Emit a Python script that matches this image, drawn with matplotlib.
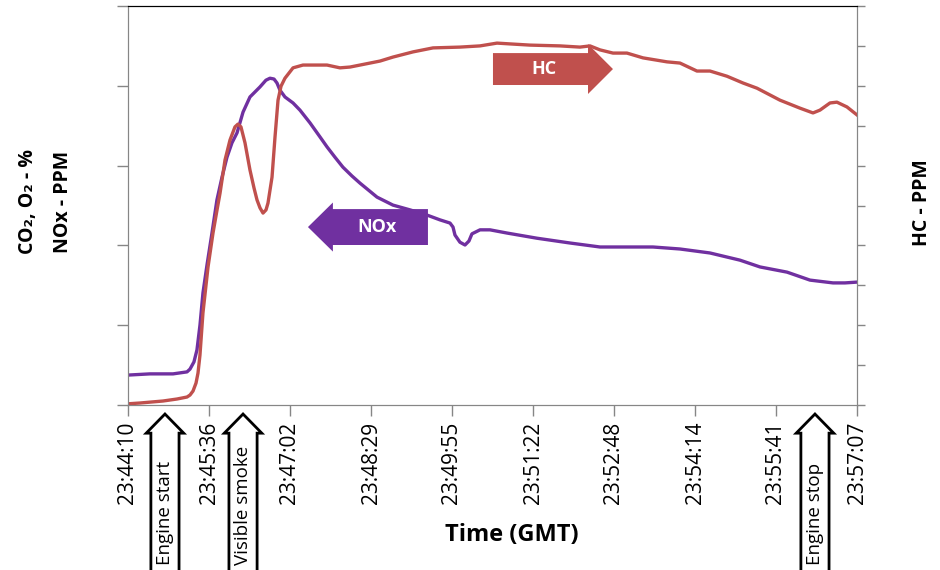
import matplotlib
matplotlib.use("Agg")
import matplotlib.pyplot as plt
import matplotlib.transforms as mtransforms
from matplotlib.patches import FancyArrow

plt.rcParams["font.family"] = ["Open Sans", "DejaVu Sans"]

# tijd in seconden vanaf 23:44:10
nox_t = [0, 23.4, 48.0, 62.9, 66.1, 70.3, 73.5, 76.7, 79.9, 84.2, 89.5, 94.8,
         100.2, 105.5, 110.8, 116.2, 122.6, 130.0, 140.6, 147.0, 151.3, 155.6,
         158.8, 162.0, 167.3, 175.9, 183.3, 194.0, 204.6, 212.1, 220.6, 229.1,
         238.7, 247.3, 265.4, 282.4, 300.6, 318.7, 332.5, 343.2, 346.4, 348.5,
         353.8, 359.2, 363.4, 366.6, 375.2, 385.8, 403.9, 435.9, 471.1, 503.1,
         559.5, 588.3, 620.3, 652.3, 673.6, 702.4, 726.9, 751.4, 764.2, 777]
nox_v = [7.5, 7.8, 7.8, 8.3, 9.0, 10.8, 13.8, 20.0, 28.1, 35.1, 43.1, 51.4,
         57.1, 62.1, 65.7, 68.2, 73.4, 77.2, 79.7, 81.4, 81.9, 81.7,
         80.7, 78.9, 77.2, 75.7, 73.9, 70.7, 67.2, 64.7, 62.1, 59.6,
         57.4, 55.6, 52.1, 50.1, 48.9, 47.6, 46.4, 45.6, 44.6, 42.6,
         40.8, 40.1, 41.1, 42.9, 43.9, 43.9, 43.1, 41.8, 40.6, 39.6,
         39.6, 39.1, 38.1, 36.3, 34.6, 33.3, 31.3, 30.6, 30.6, 30.8]

hc_t = [0, 12.8, 37.3, 52.2, 62.9, 66.1, 69.3, 72.5, 74.6, 76.7, 79.9, 85.3,
        90.6, 94.9, 98.1, 103.4, 108.7, 114.0, 117.2, 120.4, 124.7, 130.0,
        134.3, 137.5, 140.7, 143.9, 147.1, 149.2, 153.5, 156.7, 159.9, 163.1,
        167.3, 175.9, 186.5, 204.6, 212.1, 225.9, 236.6, 247.3, 268.6, 282.4,
        303.8, 325.1, 353.8, 375.2, 393.3, 407.1, 428.4, 460.4, 481.7, 492.4,
        503.1, 516.9, 531.8, 548.9, 574.5, 588.3, 606.4, 620.3, 638.4, 655.5,
        670.4, 694.9, 716.2, 730.1, 737.5, 748.2, 755.6, 766.3, 777]
hc_v = [0.3, 0.5, 1.0, 1.5, 2.0, 2.5, 3.5, 5.5, 8.0, 12.5, 23.1, 34.6,
        43.1, 48.9, 53.1, 61.4, 66.4, 69.7, 70.4, 69.7, 65.7, 58.9,
        54.4, 51.4, 49.4, 48.1, 48.9, 50.6, 57.1, 67.2, 76.4, 79.9,
        81.9, 84.5, 85.2, 85.2, 85.2, 84.5, 84.7, 85.2, 86.2, 87.2,
        88.5, 89.5, 89.7, 90.0, 90.7, 90.5, 90.2, 90.0, 89.7, 90.0,
        89.0, 88.2, 88.2, 87.0, 86.0, 85.7, 83.7, 83.7, 82.4, 80.7,
        79.4, 76.4, 74.4, 73.2, 73.9, 75.7, 75.9, 74.7, 72.7]

tick_labels = ["23:44:10", "23:45:36", "23:47:02", "23:48:29", "23:49:55",
               "23:51:22", "23:52:48", "23:54:14", "23:55:41", "23:57:07"]
tick_pos = [i * 777 / 9 for i in range(10)]

event_names = ["Engine start", "Visible smoke", "Engine stop"]
event_t = [39.4, 122.6, 732.2]

purple = "#7030A0"
red = "#C0504D"
grey = "#868686"

fig = plt.figure(figsize=(9.4, 5.7), dpi=100)
ax = fig.add_axes([128 / 940, 1 - 405 / 570, 729 / 940, 399 / 570])
ax2 = ax.twinx()

ax.plot(nox_t, nox_v, color=purple, lw=2.4, solid_joinstyle="round")
ax2.plot(hc_t, hc_v, color=red, lw=2.4, solid_joinstyle="round")

for a in (ax, ax2):
    a.set_xlim(0, 777)
    a.set_ylim(0, 100)
    for s in ("left", "right", "bottom"):
        a.spines[s].set_color(grey)
    a.spines["top"].set_color("black")

ax.set_yticks(range(0, 101, 20))
ax.set_yticklabels([])
ax.tick_params(axis="y", direction="out", length=8, color=grey, width=1)
ax2.set_yticks(range(0, 101, 10))
ax2.set_yticklabels([])
ax2.tick_params(axis="y", direction="out", length=6, color=grey, width=1)

ax.set_xticks(tick_pos)
ax.set_xticklabels(tick_labels, rotation=90, fontsize=15)
ax.tick_params(axis="x", direction="out", length=8, color=grey, width=1, pad=4)

fig.text(512 / 940, 1 - 535 / 570, "Time (GMT)", fontsize=17,
         fontweight="bold", ha="center", va="center")

fig.text(28 / 940, 1 - 202 / 570, "CO₂, O₂ - %", rotation=90, fontsize=14,
         fontweight="bold", ha="center", va="center")
fig.text(63 / 940, 1 - 202 / 570, "NOx - PPM", rotation=90, fontsize=14,
         fontweight="bold", ha="center", va="center")
fig.text(922 / 940, 1 - 203 / 570, "HC - PPM", rotation=90, fontsize=14,
         fontweight="bold", ha="center", va="center")

# serie-pijlen
ax.add_patch(FancyArrow(319.7, 44.6, -127.9, 0, width=9.0, head_width=12.3,
                        head_length=26.6, length_includes_head=True,
                        color=purple, lw=0))
ax.text(265, 44.6, "NOx", color="white", fontsize=13, fontweight="bold",
        ha="center", va="center")
ax.add_patch(FancyArrow(389.0, 84.2, 127.9, 0, width=8.0, head_width=12.5,
                        head_length=26.6, length_includes_head=True,
                        color=red, lw=0))
ax.text(443, 84.2, "HC", color="white", fontsize=13, fontweight="bold",
        ha="center", va="center")

# gebeurtenissen onder de as
trans = mtransforms.blended_transform_factory(ax.transData, ax.transAxes)
for name, t in zip(event_names, event_t):
    arr = FancyArrow(t, -0.45, 0, 0.45 - 0.0226, width=30, head_width=40,
                     head_length=0.048, length_includes_head=True,
                     transform=trans, facecolor="white", edgecolor="black",
                     lw=2, clip_on=False, zorder=5)
    ax.add_patch(arr)
    ax.text(t, -0.401, name, rotation=90, fontsize=13.5, ha="center",
            va="bottom", transform=trans, zorder=6, clip_on=False)

fig.savefig("out.png", dpi=100)
